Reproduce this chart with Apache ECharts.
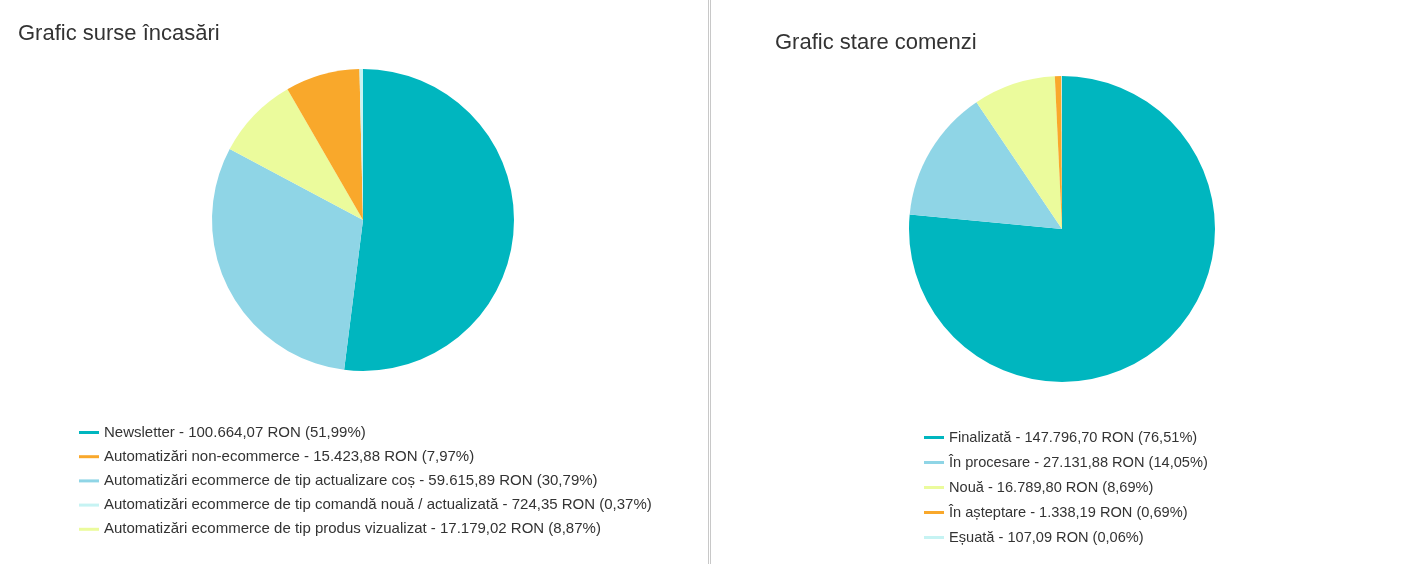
<!DOCTYPE html>
<html>
<head>
<meta charset="utf-8">
<script src="https://cdn.jsdelivr.net/npm/echarts@6/dist/echarts.min.js"></script>
<style>
html, body { margin: 0; padding: 0; background: #fff; }
#chart { width: 1403px; height: 564px; }
</style>
</head>
<body>
<div id="chart"></div>
<script>
// surse incasari
var surseNames = ['Newsletter', 'Automatizări non-ecommerce', 'Automatizări ecommerce de tip actualizare coș',
	'Automatizări ecommerce de tip comandă nouă / actualizată', 'Automatizări ecommerce de tip produs vizualizat'];
var surseValues = [100664.07, 15423.88, 59615.89, 724.35, 17179.02];
var surseProc = ['51,99', '7,97', '30,79', '0,37', '8,87'];
var surseColors = ['#00b6bf', '#f9a82b', '#8fd5e6', '#c6f3f3', '#ebfb9c'];

// stare comenzi
var stareNames = ['Finalizată', 'În procesare', 'Nouă', 'În așteptare', 'Eșuată'];
var stareValues = [147796.70, 27131.88, 16789.80, 1338.19, 107.09];
var stareProc = ['76,51', '14,05', '8,69', '0,69', '0,06'];
var stareColors = ['#00b6bf', '#8fd5e6', '#ebfb9c', '#f9a82b', '#c6f3f3'];

function formatRon(v) {	//100664.07 -> 100.664,07
	var parts = v.toFixed(2).split('.');
	var intPart = parts[0].replace(/\B(?=(\d{3})+(?!\d))/g, '.');
	return intPart + ',' + parts[1];
}

function buildData(names, values, colors) {
	var d = [];
	for (var i = 0; i < names.length; i++) {
		d.push({name: names[i], value: values[i], itemStyle: {color: colors[i]}});
	}
	// felii ordonate descrescator
	return d.sort(function(a, b) { return b.value - a.value; });
}

function labelMap(names, values, proc) {
	var m = {};
	for (var i = 0; i < names.length; i++) {
		m[names[i]] = names[i] + ' - ' + formatRon(values[i]) + ' RON (' + proc[i] + '%)';
	}
	return m;
}

var surseLabels = labelMap(surseNames, surseValues, surseProc);
var stareLabels = labelMap(stareNames, stareValues, stareProc);

var legendBase = {
	orient: 'vertical',
	icon: 'rect',
	itemWidth: 20,
	itemHeight: 3,
	selectedMode: false
};

var titleStyle = {fontFamily: 'Liberation Sans', fontSize: 22, fontWeight: 'normal', color: '#333'};

var option = {
	animation: false,
	backgroundColor: '#fff',
	title: [
		{text: 'Grafic surse încasări', left: 13, top: 18, textStyle: titleStyle},
		{text: 'Grafic stare comenzi', left: 770, top: 27, textStyle: titleStyle}
	],
	legend: [
		Object.assign({}, legendBase, {
			left: 74, top: 420, itemGap: 9.2, data: surseNames,
			textStyle: {fontFamily: 'Liberation Sans', fontSize: 15, color: '#333'},
			formatter: function(n) { return surseLabels[n]; }
		}),
		Object.assign({}, legendBase, {
			left: 919, top: 425, itemGap: 10, data: stareNames,
			textStyle: {fontFamily: 'Liberation Sans', fontSize: 14.6, color: '#333'},
			formatter: function(n) { return stareLabels[n]; }
		})
	],
	graphic: [
		{type: 'line', shape: {x1: 708.5, y1: 0, x2: 708.5, y2: 564}, style: {stroke: '#c8c8c8', lineWidth: 1}},
		{type: 'line', shape: {x1: 710.5, y1: 0, x2: 710.5, y2: 564}, style: {stroke: '#c8c8c8', lineWidth: 1}}
	],
	series: [
		{
			type: 'pie',
			center: [363, 220],
			radius: 151,
			startAngle: 90,
			label: {show: false},
			labelLine: {show: false},
			emphasis: {disabled: true},
			data: buildData(surseNames, surseValues, surseColors)
		},
		{
			type: 'pie',
			center: [1062, 229],
			radius: 153,
			startAngle: 90,
			label: {show: false},
			labelLine: {show: false},
			emphasis: {disabled: true},
			data: buildData(stareNames, stareValues, stareColors)
		}
	]
};

var myChart = echarts.init(document.getElementById('chart'));
myChart.setOption(option);
</script>
</body>
</html>
